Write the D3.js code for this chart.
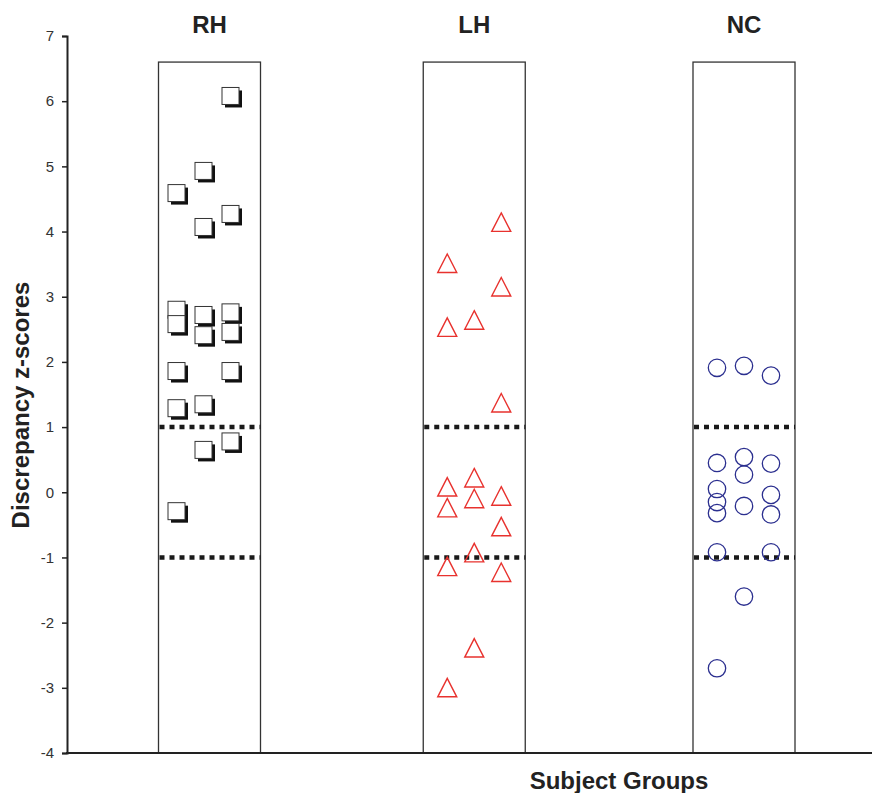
<!DOCTYPE html>
<html><head><meta charset="utf-8">
<script src="https://cdn.jsdelivr.net/npm/d3@7/dist/d3.min.js"></script>
<style>body{margin:0;background:#fff}</style>
</head><body>
<script>
// ---- data ----
const groups = ["RH", "LH", "NC"];
const yTicks = [-4, -3, -2, -1, 0, 1, 2, 3, 4, 5, 6, 7];
const cutoffs = [1, -1];
const boxTop = 6.6;
// slot = which of three sub-columns within the group box (0,1,2)
const rhValues = [6.08, 4.93, 4.59, 4.07, 4.27, 2.80, 2.58, 2.72, 2.41, 2.76, 2.46, 1.86, 1.86, 1.29, 1.35, 0.65, 0.78, -0.29];
const rhSlots  = [2,    1,    0,    1,    2,    0,    0,    1,    1,    2,    2,    0,    2,    0,    1,    1,    2,    0];
const lhValues = [4.14, 3.51, 3.15, 2.64, 2.53, 1.37, 0.08, 0.22, -0.10, -0.24, -0.06, -0.53, -0.93, -1.14, -1.23, -2.39, -3.00];
const lhSlots  = [2,    0,    2,    1,    0,    2,    0,    1,    1,     0,     2,     2,     1,     0,     2,     1,     0];
const ncValues = [1.91, 1.94, 1.79, 0.45, 0.54, 0.27, 0.44, 0.05, -0.15, -0.32, -0.21, -0.04, -0.34, -0.92, -0.92, -1.60, -2.70];
const ncSlots  = [0,    1,    2,    0,    1,    1,    2,    0,    0,     0,     1,     2,     2,     0,     2,     1,     0];

// ---- layout ----
const W = 872, H = 793;
const svg = d3.select("body").append("svg").attr("width", W).attr("height", H)
  .style("font-family", "'Liberation Sans', Arial, Helvetica, sans-serif");

const y = d3.scaleLinear().domain([-4, 7]).range([753, 36]);
const x = d3.scalePoint().domain(groups).range([209.5, 744]);
const slot = d3.scalePoint().domain([0, 1, 2]).range([-27, 27]);
const boxW = 102;
const shift = {RH: 0, LH: -2.5, NC: 0};
const nudge = {RH: -6, LH: 0, NC: 0};
const cx = g => x(g) + shift[g];

// boxes
groups.forEach(g => {
  svg.append("rect")
    .attr("x", cx(g) - boxW / 2).attr("y", y(boxTop))
    .attr("width", boxW).attr("height", y(-4) - y(boxTop))
    .attr("fill", "none").attr("stroke", "#333").attr("stroke-width", 1.3);
  svg.append("text").attr("x", cx(g)).attr("y", 33)
    .attr("text-anchor", "middle").attr("font-weight", "bold")
    .attr("font-size", 24).attr("fill", "#222").text(g);
});

// y axis
const yAxis = d3.axisLeft(y).tickValues(yTicks).tickSize(5).tickPadding(8).tickFormat(d => String(d));
const ga = svg.append("g").attr("transform", "translate(67,0)").call(yAxis);
ga.select(".domain").attr("stroke", "#222").attr("stroke-width", 2);
ga.selectAll(".tick line").attr("stroke", "#222").attr("stroke-width", 1.5);
ga.selectAll(".tick text").attr("font-size", 15).attr("fill", "#333")
  .style("font-family", "'Liberation Sans', Arial, sans-serif");

// x baseline
svg.append("line").attr("x1", 66).attr("x2", W).attr("y1", y(-4)).attr("y2", y(-4))
  .attr("stroke", "#222").attr("stroke-width", 2);

// dashed cutoffs
groups.forEach(g => {
  cutoffs.forEach(c => {
    svg.append("line")
      .attr("x1", cx(g) - boxW / 2 + 1).attr("x2", cx(g) + boxW / 2)
      .attr("y1", y(c)).attr("y2", y(c))
      .attr("stroke", "#1a1a1a").attr("stroke-width", 4.5)
      .attr("stroke-dasharray", "5,5");
  });
});

// RH squares with shadow
const sq = 17;
const rh = rhValues.map((v, i) => ({v, s: rhSlots[i]}));
const rhG = svg.append("g");
rhG.selectAll("rect.sh").data(rh).join("rect").attr("class", "sh")
  .attr("x", d => cx("RH") + nudge.RH + slot(d.s) - sq / 2 + 3)
  .attr("y", d => y(d.v) - sq / 2 + 3)
  .attr("width", sq).attr("height", sq).attr("fill", "#111");
rhG.selectAll("rect.fg").data(rh).join("rect").attr("class", "fg")
  .attr("x", d => cx("RH") + nudge.RH + slot(d.s) - sq / 2)
  .attr("y", d => y(d.v) - sq / 2)
  .attr("width", sq).attr("height", sq)
  .attr("fill", "#fff").attr("stroke", "#333").attr("stroke-width", 1);

// LH triangles
const lh = lhValues.map((v, i) => ({v, s: lhSlots[i]}));
svg.append("g").selectAll("path").data(lh).join("path")
  .attr("transform", d => `translate(${cx("LH") + nudge.LH + slot(d.s)},${y(d.v)})`)
  .attr("d", "M0,-9.5L9.5,9L-9.5,9Z")
  .attr("fill", "none").attr("stroke", "#e8322e").attr("stroke-width", 1.4);

// NC circles
const nc = ncValues.map((v, i) => ({v, s: ncSlots[i]}));
svg.append("g").selectAll("circle").data(nc).join("circle")
  .attr("cx", d => cx("NC") + nudge.NC + slot(d.s))
  .attr("cy", d => y(d.v)).attr("r", 8.7)
  .attr("fill", "none").attr("stroke", "#2b2f8f").attr("stroke-width", 1.3);

// axis titles
svg.append("text").attr("transform", "translate(29,405) rotate(-90)")
  .attr("text-anchor", "middle").attr("font-weight", "bold").attr("font-size", 24)
  .attr("fill", "#222").text("Discrepancy z-scores");
svg.append("text").attr("x", 619).attr("y", 789)
  .attr("text-anchor", "middle").attr("font-weight", "bold").attr("font-size", 24)
  .attr("fill", "#222").text("Subject Groups");
</script>
</body></html>
